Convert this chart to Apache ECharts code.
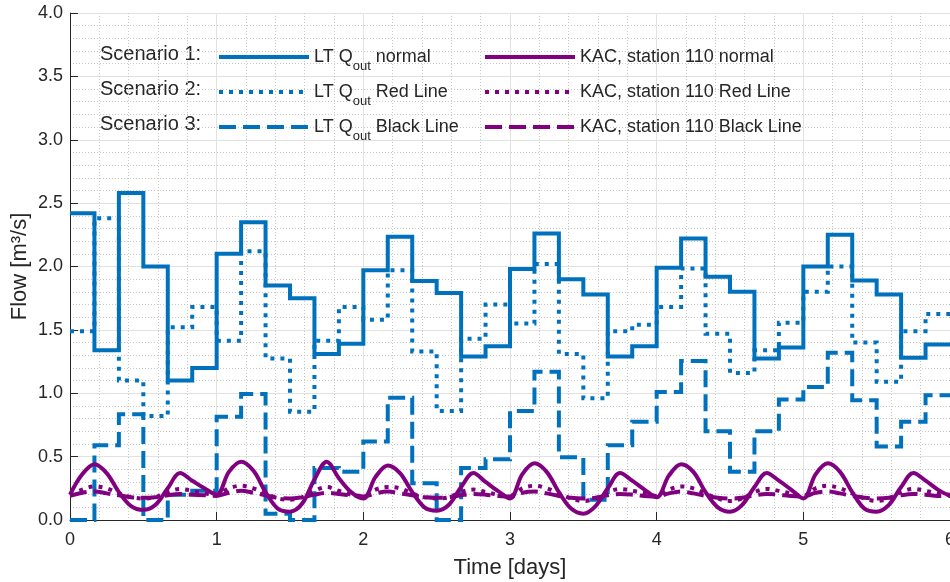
<!DOCTYPE html>
<html>
<head>
<meta charset="utf-8">
<script src="https://cdn.jsdelivr.net/npm/echarts@6/dist/echarts.min.js"></script>
<style>
  html, body { margin: 0; padding: 0; background: #fff; }
  #main { width: 950px; height: 582px; }
</style>
</head>
<body>
<div id="main"></div>
<script>
// LT outflow, held constant over 4 h blocks (hours since start)
const stepHours = [0, 4, 8, 12, 16, 20, 24, 28, 32, 36, 40, 44, 48, 52, 56, 60, 64, 68, 72,
  76, 80, 84, 88, 92, 96, 100, 104, 108, 112, 116, 120, 124, 128, 132, 136, 140, 144];
const ltNormal = [2.42, 1.34, 2.58, 2.00, 1.10, 1.20, 2.10, 2.35, 1.85, 1.75, 1.31, 1.39,
  1.97, 2.235, 1.886, 1.79, 1.29, 1.37, 1.98, 2.26, 1.90, 1.78, 1.29, 1.37,
  1.99, 2.22, 1.92, 1.80, 1.275, 1.36, 2.00, 2.25, 1.89, 1.78, 1.28, 1.385, 1.385];
const ltRed = [1.49, 2.38, 1.10, 0.82, 1.52, 1.68, 1.415, 2.12, 1.275, 0.855, 1.415, 1.68,
  1.58, 1.97, 1.33, 0.86, 1.43, 1.70, 1.55, 2.02, 1.31, 0.96, 1.49, 1.54,
  1.68, 1.985, 1.47, 1.16, 1.34, 1.557, 1.80, 2.00, 1.40, 1.09, 1.49, 1.625, 1.625];
const ltBlack = [0.0, 0.59, 0.835, 0.0, 0.20, 0.23, 0.815, 0.995, 0.05, 0.0, 0.41, 0.38,
  0.62, 0.965, 0.29, 0.0, 0.41, 0.48, 0.86, 1.17, 0.495, 0.16, 0.59, 0.775,
  1.01, 1.255, 0.70, 0.38, 0.70, 0.95, 1.05, 1.32, 0.945, 0.58, 0.775, 0.985, 0.985];

// KAC station 110, read every 2 h
const kacHours = [0, 2, 4, 6, 8, 10, 12, 14, 16, 18, 20, 22, 24, 26, 28, 30, 32, 34, 36, 38,
  40, 42, 44, 46, 48, 50, 52, 54, 56, 58, 60, 62, 64, 66, 68, 70, 72, 74, 76, 78, 80, 82,
  84, 86, 88, 90, 92, 94, 96, 98, 100, 102, 104, 106, 108, 110, 112, 114, 116, 118, 120,
  122, 124, 126, 128, 130, 132, 134, 136, 138, 140, 142, 144];
const kacNormal = [0.20, 0.36, 0.44, 0.37, 0.22, 0.11, 0.08, 0.12, 0.25, 0.37, 0.31, 0.25,
  0.20, 0.38, 0.46, 0.39, 0.22, 0.09, 0.066, 0.13, 0.32, 0.46, 0.33, 0.22,
  0.17, 0.34, 0.43, 0.37, 0.22, 0.10, 0.073, 0.12, 0.26, 0.37, 0.30, 0.23,
  0.17, 0.36, 0.447, 0.38, 0.22, 0.09, 0.05, 0.11, 0.25, 0.37, 0.31, 0.24,
  0.18, 0.35, 0.44, 0.38, 0.22, 0.10, 0.066, 0.12, 0.26, 0.37, 0.31, 0.24,
  0.17, 0.36, 0.447, 0.38, 0.22, 0.09, 0.066, 0.12, 0.26, 0.37, 0.31, 0.24, 0.19];
const kacRed = [0.20, 0.24, 0.265, 0.25, 0.21, 0.18, 0.17, 0.18, 0.22, 0.245, 0.23, 0.21,
  0.20, 0.25, 0.27, 0.25, 0.21, 0.17, 0.16, 0.18, 0.23, 0.26, 0.23, 0.20,
  0.19, 0.24, 0.26, 0.25, 0.21, 0.18, 0.17, 0.18, 0.22, 0.24, 0.22, 0.20,
  0.19, 0.25, 0.27, 0.25, 0.21, 0.17, 0.15, 0.17, 0.22, 0.245, 0.23, 0.21,
  0.19, 0.24, 0.265, 0.25, 0.21, 0.17, 0.15, 0.17, 0.22, 0.245, 0.23, 0.21,
  0.19, 0.25, 0.27, 0.25, 0.21, 0.17, 0.15, 0.17, 0.22, 0.245, 0.23, 0.21, 0.20];
const kacBlack = [0.19, 0.215, 0.225, 0.21, 0.195, 0.18, 0.175, 0.18, 0.195, 0.205, 0.20, 0.195,
  0.19, 0.215, 0.23, 0.215, 0.195, 0.175, 0.17, 0.18, 0.20, 0.215, 0.205, 0.195,
  0.185, 0.21, 0.225, 0.21, 0.195, 0.18, 0.175, 0.18, 0.195, 0.205, 0.20, 0.19,
  0.185, 0.215, 0.225, 0.21, 0.19, 0.175, 0.17, 0.175, 0.195, 0.205, 0.20, 0.19,
  0.185, 0.21, 0.225, 0.21, 0.19, 0.175, 0.17, 0.175, 0.195, 0.205, 0.20, 0.19,
  0.185, 0.215, 0.225, 0.21, 0.19, 0.175, 0.17, 0.175, 0.195, 0.205, 0.20, 0.19, 0.19];

const scenarioLabels = ['Scenario 1:', 'Scenario 2:', 'Scenario 3:'];

const FONT = '"Liberation Sans", Arial, Helvetica, sans-serif';
const TXT = '#262626';
const BLUE = '#0072BD';
const PURPLE = '#800080';
const DOTTED = [4, 6];
const DASHED = [17, 7];

function toPairs(hours, vals) {
  return hours.map((h, i) => [h / 24, vals[i]]);
}

const seriesDefs = [
  { name: 'LT Qout normal', hours: stepHours, vals: ltNormal, color: BLUE, type: 'solid', step: true },
  { name: 'LT Qout Red Line', hours: stepHours, vals: ltRed, color: BLUE, type: DOTTED, step: true },
  { name: 'LT Qout Black Line', hours: stepHours, vals: ltBlack, color: BLUE, type: DASHED, step: true },
  { name: 'KAC, station 110 normal', hours: kacHours, vals: kacNormal, color: PURPLE, type: 'solid' },
  { name: 'KAC, station 110 Red Line', hours: kacHours, vals: kacRed, color: PURPLE, type: DOTTED },
  { name: 'KAC, station 110 Black Line', hours: kacHours, vals: kacBlack, color: PURPLE, type: DASHED }
];

// legend block layout (row centres / column starts in px)
const legendRows = [57, 92, 127];
const legendCols = [217, 483];
const scenarioRows = [54, 89, 124];

const chart = echarts.init(document.getElementById('main'));

const option = {
  animation: false,
  backgroundColor: '#fff',
  textStyle: { fontFamily: FONT },
  grid: { left: 70, right: 0, top: 13, bottom: 62, containLabel: false, outerBoundsMode: 'none' },
  xAxis: {
    type: 'value', min: 0, max: 6, interval: 1,
    name: 'Time [days]', nameLocation: 'middle', nameGap: 37, nameMoveOverlap: false,
    nameTextStyle: { fontSize: 22, color: TXT, fontFamily: FONT },
    axisLine: { show: true, onZero: false, lineStyle: { color: TXT, width: 1 } },
    axisTick: { show: true, inside: true, length: 8, lineStyle: { color: TXT } },
    axisLabel: { fontSize: 18, color: TXT, margin: 11, fontFamily: FONT },
    splitLine: { show: true, lineStyle: { color: '#e2e2e2', width: 1 } },
    minorTick: { show: true, splitNumber: 5, length: 0 },
    minorSplitLine: { show: true, lineStyle: { color: '#c8c8c8', type: [1, 2], width: 1 } }
  },
  yAxis: {
    type: 'value', min: 0, max: 4, interval: 0.5,
    name: 'Flow [m³/s]', nameLocation: 'middle', nameGap: 39, nameRotate: 90, nameMoveOverlap: false,
    nameTextStyle: { fontSize: 22, color: TXT, fontFamily: FONT },
    axisLine: { show: true, lineStyle: { color: TXT, width: 1 } },
    axisTick: { show: true, inside: true, length: 8, lineStyle: { color: TXT } },
    axisLabel: { fontSize: 18, color: TXT, margin: 7, fontFamily: FONT,
      formatter: v => v.toFixed(1) },
    splitLine: { show: true, lineStyle: { color: '#e2e2e2', width: 1 } },
    minorTick: { show: true, splitNumber: 5, length: 0 },
    minorSplitLine: { show: true, lineStyle: { color: '#c8c8c8', type: [1, 2], width: 1 } }
  },
  legend: seriesDefs.map((s, i) => ({
    data: [s.name],
    left: legendCols[Math.floor(i / 3)],
    top: legendRows[i % 3] - 15.5,
    padding: 0,
    itemWidth: 90,
    itemHeight: 14,
    selectedMode: false,
    itemStyle: { opacity: 0 },
    lineStyle: { width: 4 },
    formatter: n => n.replace('Qout', 'Q{sub|out}'),
    textStyle: {
      fontSize: 18, color: TXT, fontFamily: FONT, lineHeight: 31,
      rich: { sub: { fontSize: 13, lineHeight: 13, verticalAlign: 'bottom', color: TXT, fontFamily: FONT } }
    }
  })),
  graphic: scenarioLabels.map((t, i) => ({
    type: 'text',
    x: 100,
    y: scenarioRows[i],
    style: { text: t, fontSize: 20, fontFamily: FONT, fill: TXT, verticalAlign: 'middle' }
  })),
  series: seriesDefs.map(s => ({
    name: s.name,
    type: 'line',
    data: toPairs(s.hours, s.vals),
    step: s.step ? 'end' : false,
    smooth: s.step ? false : 0.35,
    symbol: 'none',
    showSymbol: false,
    clip: false,
    color: s.color,
    lineStyle: { color: s.color, width: 4, type: s.type, cap: 'butt', join: 'miter' },
    emphasis: { disabled: true }
  }))
};

chart.setOption(option);
</script>
</body>
</html>
